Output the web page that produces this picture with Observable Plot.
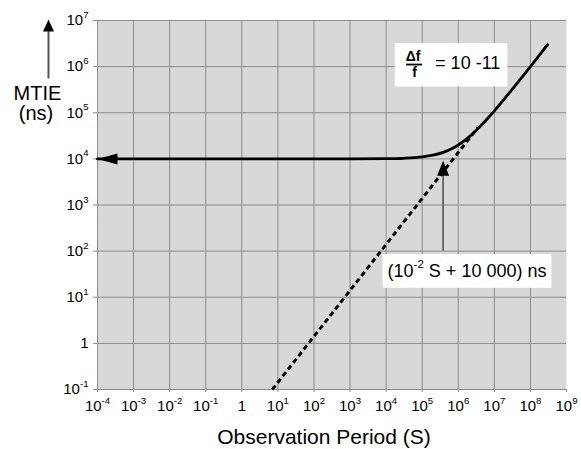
<!DOCTYPE html>
<html>
<head>
<meta charset="utf-8">
<script src="https://cdn.jsdelivr.net/npm/d3@7"></script>
<script src="https://cdn.jsdelivr.net/npm/@observablehq/plot@0.6"></script>
<style>
  html, body { margin: 0; padding: 0; background: #ffffff; }
</style>
</head>
<body>
<div id="chart"></div>
<script>
// ---------- data ----------
const xTicks = [1e-4, 1e-3, 1e-2, 1e-1, 1, 1e1, 1e2, 1e3, 1e4, 1e5, 1e6, 1e7, 1e8, 1e9];
const xTickLabels = ["10{-4}", "10{-3}", "10{-2}", "10{-1}", "1", "10{1}", "10{2}", "10{3}", "10{4}", "10{5}", "10{6}", "10{7}", "10{8}", "10{9}"];
const xGrid = [1e-4, 1e-3, 1e-2, 1e-1, 1, 1e1, 1e2, 1e3, 1e4, 1e5, 1e6, 1e7, 1e8];
const yTicks = [1e-1, 1, 1e1, 1e2, 1e3, 1e4, 1e5, 1e6, 1e7];
const yTickLabels = ["10{-1}", "1", "10{1}", "10{2}", "10{3}", "10{4}", "10{5}", "10{6}", "10{7}"];

// solid MTIE curve (observation period S, MTIE ns)
const mtiePeriod = [1e-4, 1e3, 1e4, 3e4, 1e5, 2e5, 4e5, 7e5, 1e6, 2e6, 4e6, 7e6, 1e7, 3e7, 1e8, 3e8];
const mtieValue  = [1e4, 1e4, 1.01e4, 1.03e4, 1.1e4, 1.2e4, 1.4e4, 1.7e4, 2e4, 3e4, 5e4, 8e4, 1.1e5, 3.1e5, 1e6, 3e6];

// dashed asymptote
const slopePeriod = [7, 3.5e6];
const slopeValue  = [0.1, 4.8e4];

// annotation arrow and texts
const notePeriod = [3.8e5];
const noteShaftFrom = [100];
const noteShaftTo = [4.4e3];
const noteTip = [9.1e3];
const noteText = ["(10{-2} S + 10 000) ns"];
const notePosPeriod = [1.1e4];
const notePosValue = [37];

const ratioPeriod = [5.6e4];
const ratioValue = [1.11e6];
const ratioTop = ["\u0394f"];
const ratioBottom = ["f"];
const ratioRight = ["= 10 -11"];

const yTitle = ["MTIE", "(ns)"];
const xTitle = ["Observation Period (S)"];

// ---------- build ----------
const mtie = mtiePeriod.map((s, i) => ({s, v: mtieValue[i]}));
const slope = slopePeriod.map((s, i) => ({s, v: slopeValue[i]}));
const xLab = new Map(xTicks.map((d, i) => [d, xTickLabels[i]]));
const yLab = new Map(yTicks.map((d, i) => [d, yTickLabels[i]]));

const arrowLeft = {draw(c) { c.moveTo(0, 0); c.lineTo(20, -5.5); c.lineTo(20, 5.5); c.closePath(); }};
const arrowUpSmall = {draw(c) { c.moveTo(0, 0); c.lineTo(-6, 15); c.lineTo(6, 15); c.closePath(); }};
const arrowUpAxis = {draw(c) { c.moveTo(0, 0); c.lineTo(-5.5, 12); c.lineTo(5.5, 12); c.closePath(); }};
const shaftAxis = {draw(c) { c.rect(-1, 11, 2, 48); }};
const fractionBar = {draw(c) { c.rect(-8, -0.9, 16, 1.8); }};

const FONT = "'Liberation Sans', Arial, Helvetica, sans-serif";
const one = [0];

const plot = Plot.plot({
  width: 581,
  height: 449,
  marginLeft: 97,
  marginRight: 15,
  marginTop: 20,
  marginBottom: 60,
  style: {fontFamily: FONT, fontSize: "15px", background: "#ffffff", color: "#000000"},
  x: {type: "log", domain: [1e-4, 1e9]},
  y: {type: "log", domain: [1e-1, 1e7]},
  marks: [
    Plot.frame({fill: "#d8d8d8", stroke: "none", rx: 2}),
    Plot.gridX(xGrid, {stroke: "#8c8c8c", strokeOpacity: 1, strokeWidth: 1}),
    Plot.gridY(yTicks, {stroke: "#8c8c8c", strokeOpacity: 1, strokeWidth: 1}),
    Plot.axisX(xTicks, {tickFormat: d => xLab.get(d), tickSize: 3, tickPadding: 8, fontSize: 15, stroke: "#8c8c8c", fill: "#000", label: null}),
    Plot.axisY(yTicks, {tickFormat: d => yLab.get(d), tickSize: 4, tickPadding: 5, fontSize: 15, stroke: "#8c8c8c", fill: "#000", label: null}),
    Plot.line(slope, {x: "s", y: "v", stroke: "#000", strokeWidth: 3, strokeDasharray: "5,3.5", strokeLinecap: "butt"}),
    Plot.line(mtie, {x: "s", y: "v", stroke: "#000", strokeWidth: 2.8, curve: "monotone-x"}),
    Plot.dot([mtie[0]], {x: "s", y: "v", symbol: arrowLeft, fill: "#000", stroke: "none"}),
    Plot.ruleX(notePeriod, {x: d => d, y1: () => noteShaftFrom[0], y2: () => noteShaftTo[0], stroke: "#555", strokeWidth: 1.6}),
    Plot.dot(notePeriod, {x: d => d, y: () => noteTip[0], symbol: arrowUpSmall, fill: "#000", stroke: "none"}),
    // y title with arrow
    Plot.dot(one, {frameAnchor: "top-left", dx: -49, dy: -1, symbol: shaftAxis, fill: "#555", stroke: "none"}),
    Plot.dot(one, {frameAnchor: "top-left", dx: -49, dy: -1, symbol: arrowUpAxis, fill: "#000", stroke: "none"}),
    Plot.text([yTitle[0]], {frameAnchor: "top-left", text: d => d, dx: -60, dy: 73, fontSize: 20, textAnchor: "middle", lineAnchor: "middle", fill: "#000"}),
    Plot.text([yTitle[1]], {frameAnchor: "top-left", text: d => d, dx: -61.5, dy: 93, fontSize: 20, textAnchor: "middle", lineAnchor: "middle", fill: "#000"}),
    // x title
    Plot.text(xTitle, {frameAnchor: "bottom", text: d => d, dx: -8, dy: 48, fontSize: 21, textAnchor: "middle", lineAnchor: "middle", fill: "#000"}),
    // annotations
    Plot.text(noteText, {x: (d, i) => notePosPeriod[i], y: (d, i) => notePosValue[i], text: d => d, textAnchor: "start", lineAnchor: "middle", fontSize: 18, fill: "#000"}),
    Plot.text(ratioTop, {x: () => ratioPeriod[0], y: () => ratioValue[0], text: d => d, dy: -8, fontSize: 14, fontWeight: "bold", textAnchor: "middle", lineAnchor: "middle", fill: "#000"}),
    Plot.dot(one, {x: () => ratioPeriod[0], y: () => ratioValue[0], dx: 1, symbol: fractionBar, fill: "#000", stroke: "none"}),
    Plot.text(ratioBottom, {x: () => ratioPeriod[0], y: () => ratioValue[0], text: d => d, dx: 1.5, dy: 7.5, fontSize: 14, fontWeight: "bold", textAnchor: "middle", lineAnchor: "middle", fill: "#000"}),
    Plot.text(ratioRight, {x: () => ratioPeriod[0], y: () => ratioValue[0], text: d => d, dx: 22, dy: -1, fontSize: 18, textAnchor: "start", lineAnchor: "middle", fill: "#000"})
  ]
});

document.getElementById("chart").appendChild(plot);

// superscripts: "10{-4}" -> 10 with raised exponent
d3.select(plot).selectAll("text").each(function() {
  const t = this.textContent;
  if (!t.includes("{")) return;
  const fs = parseFloat(getComputedStyle(this).fontSize) || 15;
  const parts = t.split(/\{([^}]*)\}/);
  const el = d3.select(this);
  el.text(null);
  let raised = false;
  const lift = fs * 0.48;
  parts.forEach((p, i) => {
    if (i % 2 === 1) {
      el.append("tspan").attr("font-size", (fs * 0.64).toFixed(1)).attr("dy", (-lift).toFixed(1)).text(p);
      raised = true;
    } else if (p.length) {
      const ts = el.append("tspan").attr("font-size", fs).text(p);
      if (raised) { ts.attr("dy", lift.toFixed(1)); raised = false; }
    }
  });
});

// white boxes behind the annotations
function topChild(el) {
  let n = el;
  while (n.parentNode && n.parentNode !== plot) n = n.parentNode;
  return n;
}
function boxBehind(els, pad) {
  if (!els.length) return;
  const s = plot.getBoundingClientRect();
  let x0 = Infinity, y0 = Infinity, x1 = -Infinity, y1 = -Infinity;
  els.forEach(el => {
    const b = el.getBoundingClientRect();
    x0 = Math.min(x0, b.left - s.left); y0 = Math.min(y0, b.top - s.top);
    x1 = Math.max(x1, b.right - s.left); y1 = Math.max(y1, b.bottom - s.top);
  });
  const rect = document.createElementNS("http://www.w3.org/2000/svg", "rect");
  rect.setAttribute("x", x0 - pad[3]);
  rect.setAttribute("y", y0 - pad[0]);
  rect.setAttribute("width", x1 - x0 + pad[1] + pad[3]);
  rect.setAttribute("height", y1 - y0 + pad[0] + pad[2]);
  rect.setAttribute("fill", "#ffffff");
  const first = topChild(els[0]);
  plot.insertBefore(rect, first);
}
const allTexts = Array.from(plot.querySelectorAll("text"));
const noteEls = allTexts.filter(t => t.textContent.startsWith("(10"));
const ratioEls = allTexts.filter(t => ["\u0394f", "f", "= 10 -11"].includes(t.textContent));
boxBehind(noteEls, [4, 5, 7, 5]);
boxBehind(ratioEls, [5, 7, 7, 11]);
</script>
</body>
</html>
